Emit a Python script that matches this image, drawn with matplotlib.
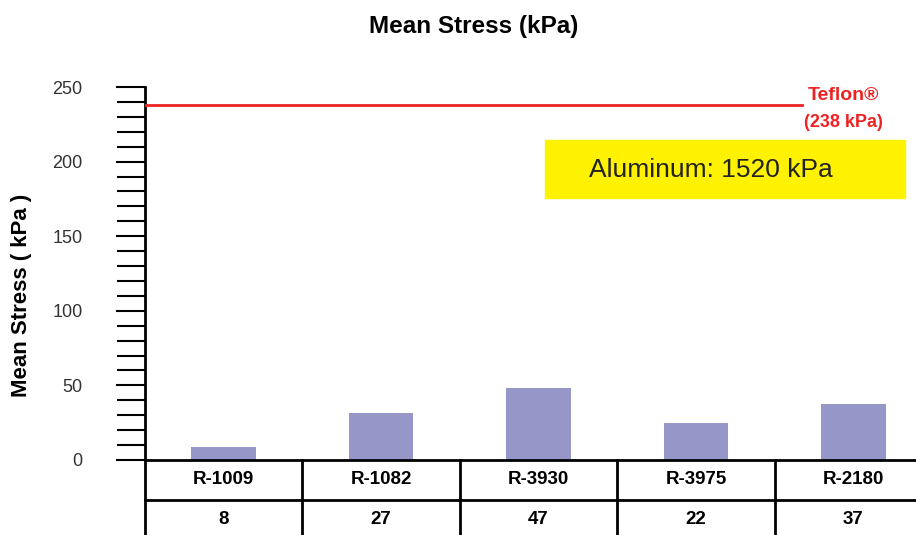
import matplotlib.pyplot as plt
from matplotlib.patches import Rectangle

plt.rcParams['font.family'] = ['Liberation Sans', 'DejaVu Sans']

# data
samples = ["R-1009", "R-1082", "R-3930", "R-3975", "R-2180"]
bar_stress = [8.7, 31.5, 48.2, 24.8, 37.5]     # bar heights as drawn
table_values = ["8", "27", "47", "22", "37"]   # numbers printed in the table row
teflon_stress = 238
aluminum_text = "Aluminum: 1520 kPa"

W, H = 916, 535
fig = plt.figure(figsize=(W / 100, H / 100), dpi=100)

# axes placed in pixel terms: spine at x=145, zero at y=460, 250 at y=87
ax_left, ax_right, ax_bottom, ax_top = 145, 932, 460, 87
ax = fig.add_axes([ax_left / W, (H - ax_bottom) / H,
                   (ax_right - ax_left) / W, (ax_bottom - ax_top) / H])

x = range(len(samples))
ax.bar(x, bar_stress, width=0.41, color="#9696c9", zorder=2)

ax.set_xlim(-0.5, len(samples) - 0.5)
ax.set_ylim(0, 250)
ax.set_yticks(range(0, 251, 50))
ax.set_yticks(range(0, 251, 10), minor=True)
ax.tick_params(axis='y', which='major', length=21, width=1.5, pad=24,
               labelsize=13, labelcolor="#333333")
ax.tick_params(axis='y', which='minor', length=20, width=1.5)
ax.set_xticks([])

for s in ["top", "right"]:
    ax.spines[s].set_visible(False)
ax.spines["left"].set_linewidth(2)
ax.spines["bottom"].set_linewidth(2)

# table under the axis
px = 250 / (ax_bottom - ax_top)          # kPa per pixel
row1 = -(500 - ax_bottom) * px
row2_bottom = -(H - ax_bottom + 5) * px
ax.plot([-0.5, len(samples) - 0.5], [row1, row1], color="black", lw=2, clip_on=False)
for i in range(len(samples)):
    ax.plot([i - 0.5, i - 0.5], [row2_bottom, 0], color="black", lw=2, clip_on=False)
    ax.text(i, -(480 - ax_bottom) * px, samples[i], ha="center", va="center",
            fontsize=13.5, fontweight="bold")
    ax.text(i, -(519 - ax_bottom) * px, table_values[i], ha="center", va="center",
            fontsize=13.5, fontweight="bold")

# Teflon reference line
ax.axhline(teflon_stress, xmin=0, xmax=(802 - ax_left) / (ax_right - ax_left),
           color="#ee2222", lw=2, zorder=3)
tx = (843 - ax_left) / (ax_right - ax_left)
ax.text(tx, teflon_stress + 6.5, "Teflon®", transform=ax.get_yaxis_transform(),
        ha="center", va="center", color="#ee2222", fontsize=14, fontweight="bold")
ax.text(tx, teflon_stress - 11.5, f"({teflon_stress} kPa)", transform=ax.get_yaxis_transform(),
        ha="center", va="center", color="#ee2222", fontsize=13, fontweight="bold")

# yellow aluminum note
bx0 = (545 - ax_left) / (ax_right - ax_left)
bw = (905 - 545) / (ax_right - ax_left)
ax.add_patch(Rectangle((bx0, (ax_bottom - 198) * px), bw, (198 - 140) * px,
                       transform=ax.get_yaxis_transform(), color="#fff200", zorder=1,
                       clip_on=False))
ax.text((711 - ax_left) / (ax_right - ax_left), (ax_bottom - 170) * px, aluminum_text,
        transform=ax.get_yaxis_transform(), ha="center", va="center",
        fontsize=19, color="#222222")

fig.text(474 / W, 1 - 27 / H, "Mean Stress (kPa)", ha="center", va="center",
         fontsize=17.5, fontweight="bold")
fig.text(22 / W, 1 - 295 / H, "Mean Stress ( kPa )", ha="center", va="center",
         rotation=90, fontsize=16, fontweight="bold")

fig.savefig("out.png", dpi=100)
